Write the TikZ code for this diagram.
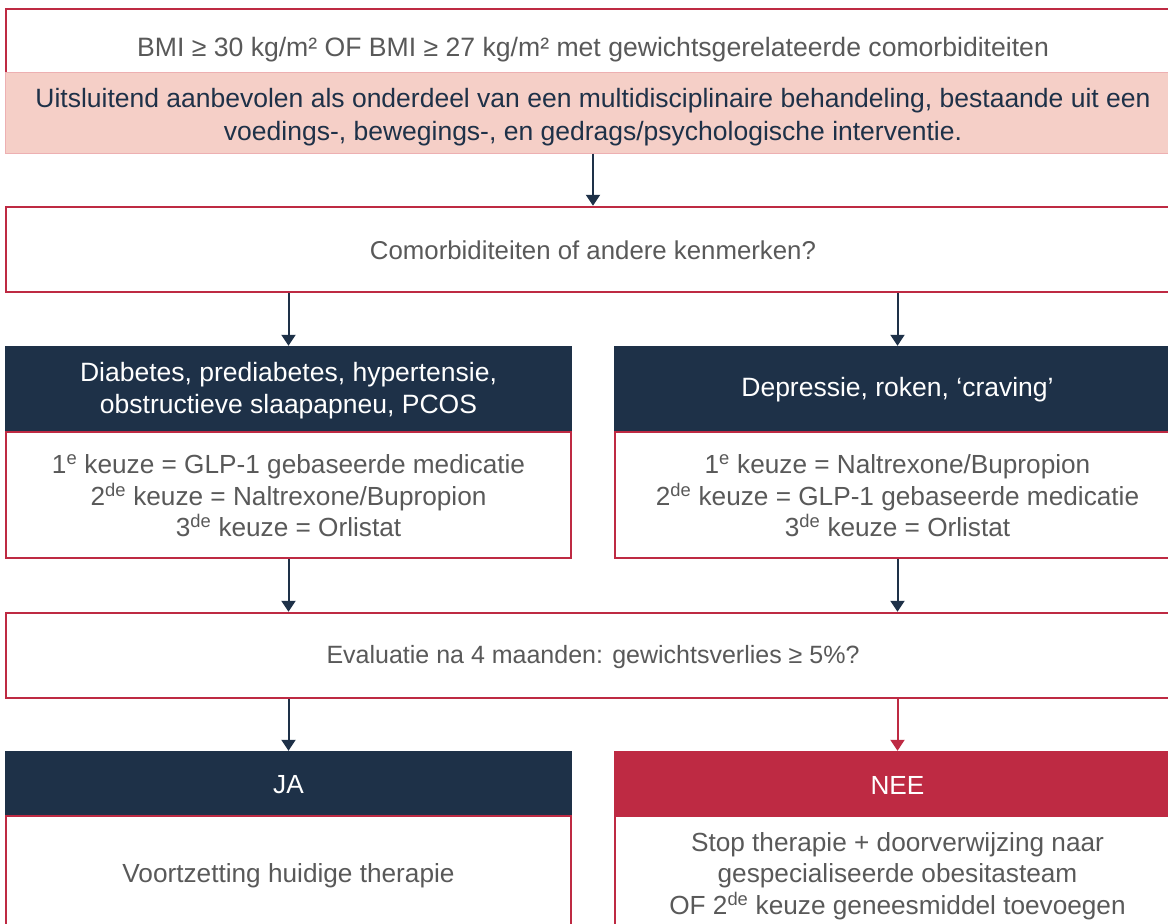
\documentclass[tikz,border=0pt]{standalone}
\usepackage{fontspec}
\setmainfont{Liberation Sans}
\usetikzlibrary{arrows.meta}
\definecolor{navy}{HTML}{1E3148}
\definecolor{crim}{HTML}{BE2A43}
\definecolor{pinkband}{HTML}{F5CFC7}
\definecolor{pinkline}{HTML}{EDB0B2}
\definecolor{txtgray}{HTML}{595959}
\newcommand{\sps}[1]{\textsuperscript{#1}}
\begin{document}
\begin{tikzpicture}[x=1pt,y=-1pt,
  frame/.style={draw=crim, line width=2.5pt, fill=white, rectangle, inner sep=0pt},
  hdr/.style={fill=#1, rectangle, inner sep=0pt},
  txt/.style={font=\fontsize{26.2}{31.5}\selectfont, align=center, inner sep=0pt},
  arr/.style={draw=#1, line width=2pt, -{Triangle[width=14pt,length=11pt]}},
  arr/.default=navy]
\useasboundingbox (0,0) rectangle (1168,924);
\clip (0,0) rectangle (1168,924);
\fill[white] (0,0) rectangle (1168,924);
% top block
\node[frame, minimum width=1174pt, minimum height=144pt] (top) at (593,81) {};
\node[hdr=pinkband, draw=pinkline, line width=1pt, minimum width=1176pt, minimum height=81pt] (band) at (593,112.5) {};
\node[txt, text=txtgray, font=\fontsize{26.6}{31.5}\selectfont] (bmi) at (593,50) {BMI ≥ 30 kg/m² OF BMI ≥ 27 kg/m² met gewichtsgerelateerde comorbiditeiten};
\node[txt, text=navy, font=\fontsize{26.5}{33}\selectfont] (bandtxt) at (593,117) {Uitsluitend aanbevolen als onderdeel van een multidisciplinaire behandeling, bestaande uit een\\voedings-, bewegings-, en gedrags/psychologische interventie.};
% comorbidities question
\node[frame, minimum width=1174pt, minimum height=85pt] (comor) at (593,249.5) {};
\node[txt, text=txtgray, font=\fontsize{25.8}{31.5}\selectfont] (comortxt) at (593,250) {Comorbiditeiten of andere kenmerken?};
% left column
\node[hdr=navy, minimum width=567pt, minimum height=85pt] (hdrL) at (288.5,388.5) {};
\node[txt, text=white, font=\fontsize{26.5}{32}\selectfont] (hdrLtxt) at (288.5,391) {Diabetes, prediabetes, hypertensie,\\obstructieve slaapapneu, PCOS};
\node[frame, minimum width=565pt, minimum height=126pt] (boxL) at (288.5,495) {};
\node[txt, text=txtgray] (boxLtxt) at (288.5,496) {1\sps{e} keuze = GLP-1 gebaseerde medicatie\\2\sps{de} keuze = Naltrexone/Bupropion\\3\sps{de} keuze = Orlistat};
% right column
\node[hdr=navy, minimum width=567pt, minimum height=85pt] (hdrR) at (897.5,388.5) {};
\node[txt, text=white, font=\fontsize{26.5}{32}\selectfont] (hdrRtxt) at (897.5,390) {Depressie, roken, ‘craving’};
\node[frame, minimum width=565pt, minimum height=126pt] (boxR) at (897.5,495) {};
\node[txt, text=txtgray] (boxRtxt) at (897.5,496) {1\sps{e} keuze = Naltrexone/Bupropion\\2\sps{de} keuze = GLP-1 gebaseerde medicatie\\3\sps{de} keuze = Orlistat};
% evaluation
\node[frame, minimum width=1174pt, minimum height=85pt] (eval) at (593,655.5) {};
\node[txt, text=txtgray, font=\fontsize{25}{31.5}\selectfont] (evaltxt) at (593,657) {Evaluatie na 4 maanden: gewichtsverlies ≥ 5\%?};
% outcomes
\node[hdr=navy, minimum width=567pt, minimum height=64pt] (hdrJA) at (288.5,783) {};
\node[txt, text=white] (jatxt) at (288.5,785) {JA};
\node[frame, minimum width=565pt, minimum height=120pt] (boxJA) at (288.5,876) {};
\node[txt, text=txtgray] (boxJAtxt) at (288.5,876) {Voortzetting huidige therapie};
\node[hdr=crim, minimum width=567pt, minimum height=64pt] (hdrNEE) at (897.5,783) {};
\node[txt, text=white] (neetxt) at (897.5,785) {NEE};
\node[frame, minimum width=565pt, minimum height=120pt] (boxNEE) at (897.5,876) {};
\node[txt, text=txtgray] (boxNEEtxt) at (897.5,876) {Stop therapie + doorverwijzing naar\\gespecialiseerde obesitasteam\\OF 2\sps{de} keuze geneesmiddel toevoegen};
% connectors
\draw[arr] (band.south) -- (comor.north);
\draw[arr] (comor.south -| hdrL.north) -- (hdrL.north);
\draw[arr] (comor.south -| hdrR.north) -- (hdrR.north);
\draw[arr] (boxL.south) -- (eval.north -| boxL.south);
\draw[arr] (boxR.south) -- (eval.north -| boxR.south);
\draw[arr] (eval.south -| hdrJA.north) -- (hdrJA.north);
\draw[arr=crim] (eval.south -| hdrNEE.north) -- (hdrNEE.north);
\end{tikzpicture}
\end{document}
